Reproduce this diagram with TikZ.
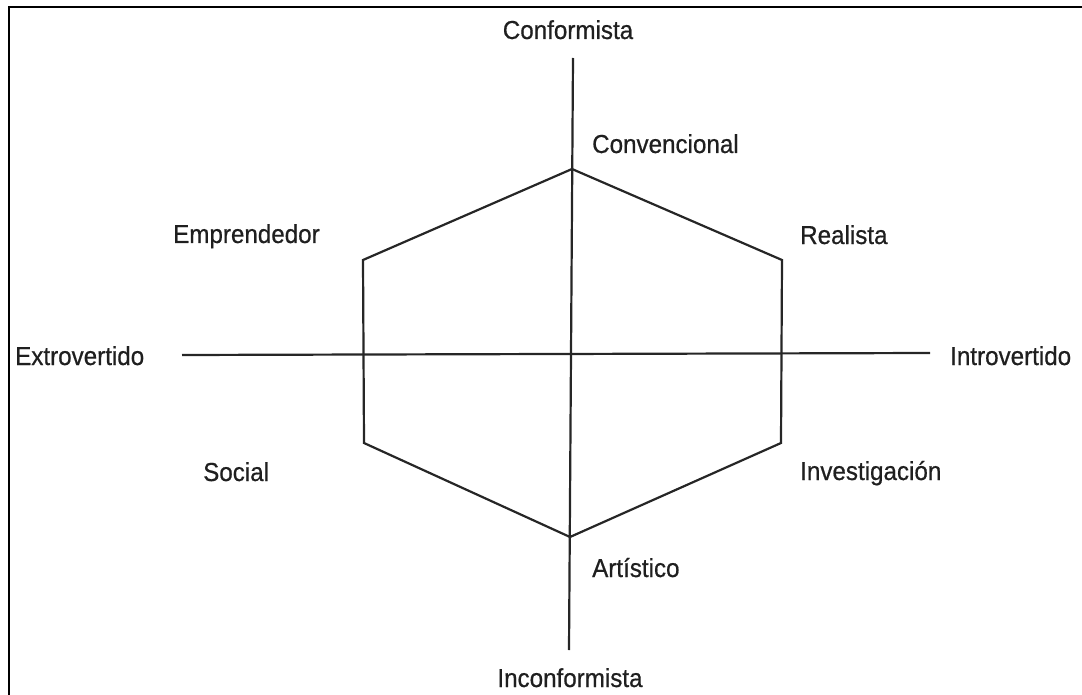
\documentclass[tikz,border=0pt]{standalone}
\usepackage{fontspec}
\setmainfont{Liberation Sans}
\newfontfamily\lblfont[FakeStretch=0.93,FakeBold=0.6]{Liberation Sans}
\begin{document}
\begin{tikzpicture}[x=1pt,y=-1pt,
  lbl/.style={inner sep=0pt,font=\lblfont\fontsize{26}{30}\selectfont,text=black!88},
  ln/.style={line width=2.2pt,draw=black!85},
  frame/.style={line width=2.4pt,draw=black}]
\useasboundingbox (0,0) rectangle (1082,695);
% frame (top and left edges)
\coordinate (f1) at (1082,7);
\coordinate (f2) at (9,7);
\coordinate (f3) at (9,695);
\draw[frame] (f1) -- (f2) -- (f3);
% axes
\coordinate (vt) at (573,58);
\coordinate (vb) at (569,650);
\coordinate (hl) at (182,355);
\coordinate (hr) at (930,353);
\draw[ln] (vt) -- (vb);
\draw[ln] (hl) -- (hr);
% hexagon
\coordinate (h1) at (572,169);
\coordinate (h2) at (782,260);
\coordinate (h3) at (781,443);
\coordinate (h4) at (570,537);
\coordinate (h5) at (364,443);
\coordinate (h6) at (363,260);
\draw[ln,line join=miter] (h1) -- (h2) -- (h3) -- (h4) -- (h5) -- (h6) -- cycle;
% labels
\node[lbl,anchor=base] (conf) at (568,39) {Conformista};
\node[lbl,anchor=base] (inconf) at (570,687) {Inconformista};
\node[lbl,anchor=base west] (conv) at (592,153) {Convencional};
\node[lbl,anchor=base west] (empr) at (173,243) {Emprendedor};
\node[lbl,anchor=base west] (real) at (800,244) {Realista};
\node[lbl,anchor=base west] (extro) at (15,365) {Extrovertido};
\node[lbl,anchor=base west] (intro) at (950,365) {Introvertido};
\node[lbl,anchor=base west] (soc) at (203,481) {Social};
\node[lbl,anchor=base west] (inv) at (800,480) {Investigación};
\node[lbl,anchor=base west] (art) at (592,577) {Artístico};
\end{tikzpicture}
\end{document}
